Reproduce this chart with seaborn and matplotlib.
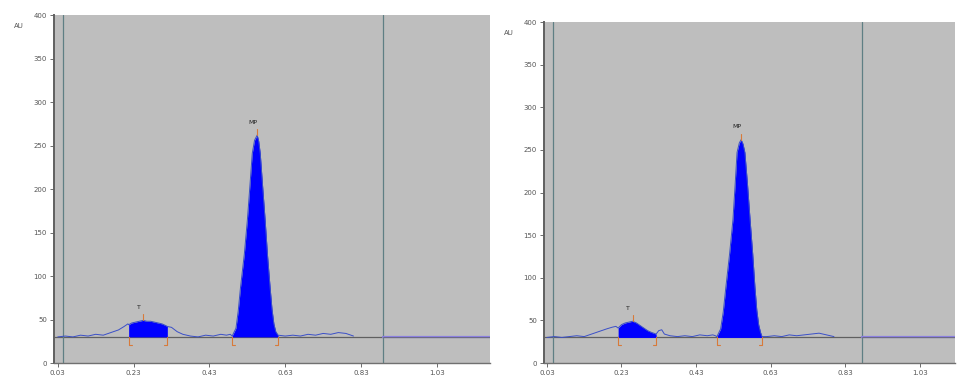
import numpy as np
import pandas as pd
import matplotlib
matplotlib.use("Agg")
import matplotlib.pyplot as plt
import seaborn as sns

# Densitometric scans (Rf vs absorbance units) of two tracks
left_rf = [0.03, 0.05, 0.07, 0.09, 0.11, 0.13, 0.15, 0.17, 0.19, 0.205, 0.215,
           0.217, 0.225, 0.235, 0.245, 0.255, 0.265, 0.275, 0.285, 0.295, 0.305, 0.315, 0.319,
           0.33, 0.345, 0.36, 0.38, 0.40, 0.42, 0.44, 0.46, 0.475, 0.485,
           0.49, 0.50, 0.506, 0.512, 0.522, 0.53, 0.537, 0.543, 0.549, 0.556, 0.56, 0.564,
           0.57, 0.577, 0.583, 0.59, 0.595, 0.60, 0.605, 0.611,
           0.63, 0.65, 0.67, 0.69, 0.71, 0.73, 0.75, 0.77, 0.79, 0.81]
left_au = [30, 31, 30, 32, 31, 33, 32, 35, 38, 42, 45,
           44, 46, 47, 48, 49, 48, 48, 47, 46, 45, 43, 42,
           41, 36, 33, 31, 30, 32, 31, 33, 32, 33,
           31, 40, 60, 87, 125, 164, 205, 241, 256, 262, 255, 241,
           205, 164, 125, 87, 62, 45, 36, 32,
           31, 32, 31, 33, 32, 34, 33, 35, 34, 31]

right_rf = [0.03, 0.05, 0.07, 0.09, 0.11, 0.13, 0.15, 0.17, 0.19, 0.205, 0.215,
            0.221, 0.23, 0.24, 0.25, 0.26, 0.27, 0.28, 0.29, 0.30, 0.31, 0.323,
            0.33, 0.338, 0.345, 0.36, 0.38, 0.40, 0.42, 0.44, 0.46, 0.475, 0.482,
            0.486, 0.496, 0.503, 0.51, 0.52, 0.529, 0.535, 0.54, 0.546, 0.551, 0.556, 0.561,
            0.568, 0.575, 0.582, 0.588, 0.593, 0.598, 0.603, 0.607,
            0.62, 0.64, 0.66, 0.68, 0.70, 0.72, 0.74, 0.76, 0.78, 0.80]
right_au = [30, 31, 30, 31, 32, 31, 34, 37, 40, 42, 43,
            41, 45, 47, 48, 49, 47, 44, 41, 38, 36, 34,
            38, 39, 34, 32, 31, 32, 31, 33, 32, 33, 32,
            31, 40, 60, 89, 128, 168, 210, 247, 258, 262, 257, 247,
            210, 168, 128, 89, 62, 45, 36, 31,
            31, 32, 31, 33, 32, 33, 34, 35, 33, 31]

# Integration windows (name, start, apex, end)
left_peaks = [("T", 0.217, 0.255, 0.319), ("MP", 0.49, 0.556, 0.611)]
right_peaks = [("T", 0.221, 0.26, 0.323), ("MP", 0.486, 0.551, 0.607)]

left_front = [0.043, 0.888]
right_front = [0.046, 0.876]

baseline_au = 30
y_ticks = [0, 50, 100, 150, 200, 250, 300, 350, 400]
x_ticks = [0.03, 0.23, 0.43, 0.63, 0.83, 1.03]
x_tick_labels = ["0.03", "0.23", "0.43", "0.63", "0.83", "1.03"]

sns.set_theme(style="white")
plt.rcParams["font.family"] = ["DejaVu Sans"]

fig = plt.figure(figsize=(9.57, 3.77), dpi=100)
ax_l = fig.add_axes([0.0564, 0.0371, 0.4556, 0.923])
ax_r = fig.add_axes([0.5684, 0.0371, 0.4296, 0.9045])

panels = [
    (ax_l, left_rf, left_au, left_peaks, left_front, (0.02, 1.17), 0.0564, 0.96),
    (ax_r, right_rf, right_au, right_peaks, right_front, (0.022, 1.125), 0.5684, 0.9416),
]

for ax, rf, au, peaks, front, xlim, x0, top in panels:
    df = pd.DataFrame({"Rf": rf, "AU": au})
    ax.set_facecolor("#bebebe")
    rf_a = np.array(rf)
    au_a = np.array(au)

    # peak areas with integration markers
    for name, start, apex, end in peaks:
        sel = (rf_a >= start) & (rf_a <= end)
        ax.fill_between(rf_a[sel], baseline_au, au_a[sel], color="#0000ff", lw=0, zorder=2)
        apex_au = au_a[np.argmin(np.abs(rf_a - apex))]
        ax.plot([apex, apex], [apex_au, apex_au + 7], color="#d87a3a", lw=0.8, zorder=4)
        for b, d in ((start, 0.008), (end, -0.008)):
            ax.plot([b, b, b + d], [baseline_au, baseline_au - 9, baseline_au - 9],
                    color="#d87a3a", lw=0.8, zorder=4)
        ax.text(apex - 0.012, apex_au + 12, name, fontsize=4.5, color="#222222",
                ha="center", va="bottom")

    ax.axhline(baseline_au, color="#606060", lw=0.9, zorder=1)
    sns.lineplot(data=df, x="Rf", y="AU", ax=ax, color="#3a4fc8", lw=0.7,
                 sort=False, zorder=3)
    ax.plot([front[1], xlim[1]], [baseline_au, baseline_au], color="#8a7fe0", lw=1.6, zorder=2)
    ax.plot([front[1], xlim[1]], [baseline_au, baseline_au], color="#606060", lw=0.5, zorder=3)
    for fx in front:
        ax.axvline(fx, color="#5f7f84", lw=0.9, zorder=1)

    ax.set_xlim(*xlim)
    ax.set_ylim(0, 400)
    ax.set_xticks(x_ticks)
    ax.set_xticklabels(x_tick_labels)
    ax.set_yticks(y_ticks)
    ax.set_xlabel("")
    ax.set_ylabel("")
    ax.tick_params(axis="both", labelsize=5, colors="#555555", length=3, width=0.6,
                   direction="out", pad=2, left=True, bottom=True)
    for s in ("top", "right"):
        ax.spines[s].set_visible(False)
    ax.spines["left"].set_color("#606060")
    ax.spines["left"].set_linewidth(1.4)
    ax.spines["bottom"].set_color("#707070")
    ax.spines["bottom"].set_linewidth(1.0)
    fig.text(x0 - 0.042, top - 0.02, "AU", fontsize=5, color="#555555", ha="left", va="top")

fig.savefig("out.png", dpi=100)
